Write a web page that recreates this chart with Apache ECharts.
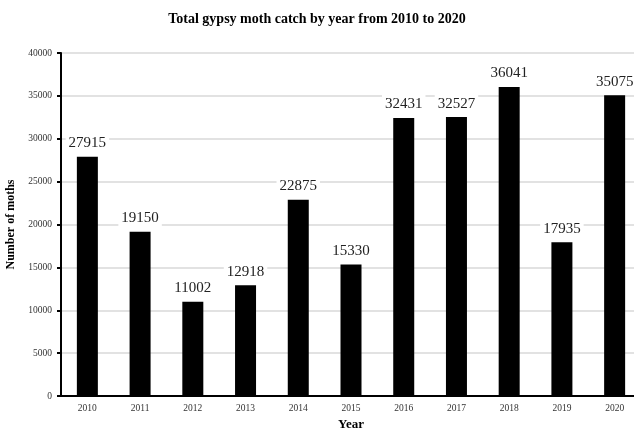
<!DOCTYPE html>
<html>
<head>
<meta charset="utf-8">
<script src="https://cdn.jsdelivr.net/npm/echarts@6/dist/echarts.min.js"></script>
<style>
  html, body { margin: 0; padding: 0; background: #fff; }
  #chart { width: 634px; height: 430px; }
</style>
</head>
<body>
<div id="chart"></div>
<script>
// Years on the x axis
const years = ['2010', '2011', '2012', '2013', '2014', '2015', '2016', '2017', '2018', '2019', '2020'];
// Total moths caught each year
const catches = [27915, 19150, 11002, 12918, 22875, 15330, 32431, 32527, 36041, 17935, 35075];

const serif = '"Liberation Serif", "DejaVu Serif", serif';

const chart = echarts.init(document.getElementById('chart'));
chart.setOption({
  animation: false,
  title: {
    text: 'Total gypsy moth catch by year from 2010 to 2020',
    left: 'center',
    top: 7,
    textStyle: { fontFamily: serif, fontSize: 14, fontWeight: 'bold', color: '#000' }
  },
  grid: {
    left: 61,
    top: 53,
    width: 580,
    height: 343,
    containLabel: false,
    outerBoundsMode: 'none'
  },
  xAxis: {
    type: 'category',
    data: years,
    name: 'Year',
    nameLocation: 'middle',
    nameGap: 22,
    nameTextStyle: { fontFamily: serif, fontSize: 13, fontWeight: 'bold', color: '#000' },
    axisLine: { lineStyle: { color: '#000', width: 2 } },
    axisTick: { length: 4, lineStyle: { color: '#000', width: 2 } },
    axisLabel: { fontFamily: serif, fontSize: 9.5, color: '#333', margin: 7 }
  },
  yAxis: {
    type: 'value',
    min: 0,
    max: 40000,
    interval: 5000,
    name: 'Number of moths',
    nameLocation: 'middle',
    nameGap: 40,
    nameTextStyle: { fontFamily: serif, fontSize: 12, fontWeight: 'bold', color: '#000' },
    axisLine: { show: true, lineStyle: { color: '#000', width: 2 } },
    axisTick: { show: true, length: 4, lineStyle: { color: '#000', width: 2 } },
    axisLabel: { fontFamily: serif, fontSize: 9.5, color: '#333', margin: 9, formatter: v => String(v) },
    splitLine: { lineStyle: { color: '#d9d9d9', width: 1.5 } }
  },
  series: [
    {
      type: 'bar',
      data: catches,
      barWidth: 21,
      itemStyle: { color: '#000' },
      label: {
        show: true,
        position: 'top',
        distance: 4,
        fontFamily: serif,
        fontSize: 15,
        color: '#222',
        backgroundColor: '#fff',
        padding: [2, 3]
      }
    }
  ]
});
</script>
</body>
</html>
